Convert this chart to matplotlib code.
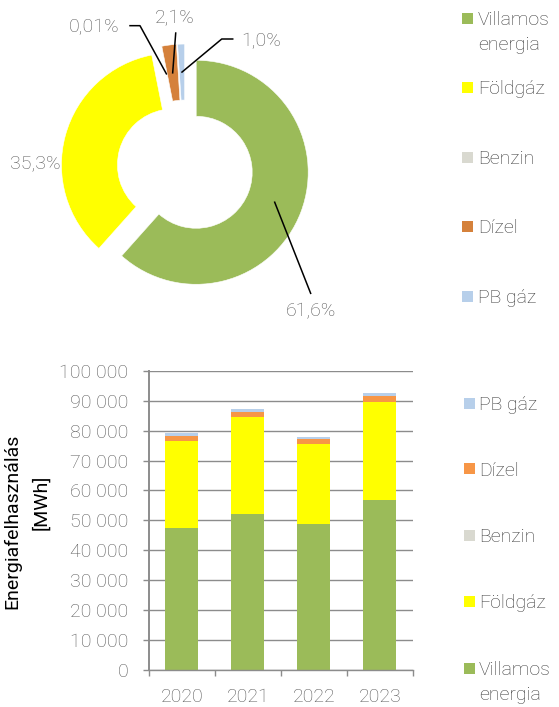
import matplotlib
matplotlib.use('Agg')
import matplotlib.pyplot as plt
import numpy as np
from matplotlib.patches import Rectangle
from matplotlib.ticker import FuncFormatter, FixedLocator

plt.rcParams['font.family'] = ['Roboto', 'DejaVu Sans']
plt.rcParams['font.weight'] = 'light'

# --- data ---
series = ['Villamos\nenergia', 'Földgáz', 'Benzin', 'Dízel', 'PB gáz']
pie_share = [61.6, 35.3, 0.01, 2.1, 1.0]
pie_labels = ['61,6%', '35,3%', '0,01%', '2,1%', '1,0%']
pie_colors = ['#9BBB59', '#FFFF00', '#D9D9D0', '#D5813B', '#B7CFEA']

years = ['2020', '2021', '2022', '2023']
villamos = [47450, 52100, 48900, 56800]
foldgaz = [29050, 32430, 26700, 32850]
benzin = [10, 10, 10, 10]
dizel = [1680, 1670, 1580, 2000]
pb_gaz = [1110, 1000, 770, 900]
bar_colors = ['#9BBB59', '#FFFF00', '#D9D9D0', '#F79646', '#B7CFEA']

W, H = 559, 707
fig = plt.figure(figsize=(W / 100, H / 100), dpi=100)
grey = '#595959'


def fpos(x, y):
    return x / W, 1 - y / H


def legend_entry(name, col, mx, tx, y):
    x0, y0 = fpos(mx, y + 5.5)
    fig.add_artist(Rectangle((x0, y0), 11 / W, 11 / H, transform=fig.transFigure,
                             facecolor=col, edgecolor='none'))
    for i, line in enumerate(name.split('\n')):
        px, py = fpos(tx, y + 25 * i)
        fig.text(px, py, line, ha='left', va='center_baseline', fontsize=14,
                 color='#3A3A3A')


# --- donut ---
ax1 = fig.add_axes([0.0705, 0.5564, 0.5209, 0.4119])
wedges, _ = ax1.pie(pie_share, colors=pie_colors, startangle=90, counterclock=False,
                    explode=[0.107] * 5, radius=1,
                    wedgeprops=dict(width=0.5, edgecolor='white', linewidth=0.4))
ax1.set_xlim(-1.3, 1.3)
ax1.set_ylim(-1.3, 1.3)
ax1.set_aspect('equal')

label_pos = [(1.121, -1.283), (-1.335, 0.042), (-0.8125, 1.254), (-0.089, 1.339), (0.676, 1.136)]
leader = [[(1.122, -1.119)], None, [(-0.402, 1.271), (-0.491, 1.271)],
          [(-0.083, 1.205)], [(0.328, 1.152), (0.426, 1.152)]]
for w, lab, pos, pts in zip(wedges, pie_labels, label_pos, leader):
    mid = np.deg2rad((w.theta1 + w.theta2) / 2)
    cx, cy = w.center
    ax1.text(pos[0], pos[1], lab, ha='center', va='center', fontsize=14, color=grey)
    if pts:
        ax_x = [cx + 0.75 * np.cos(mid)] + [p[0] for p in pts]
        ax_y = [cy + 0.75 * np.sin(mid)] + [p[1] for p in pts]
        ax1.plot(ax_x, ax_y, color='black', lw=1.1, clip_on=False)

top_leg_y = [18, 87, 157, 226, 296]
for name, col, y in zip(series, pie_colors, top_leg_y):
    legend_entry(name, col, 462, 478, y)

# --- stacked bars ---
ax2 = fig.add_axes([0.2665, 0.0523, 0.4723, 0.4233])
x = np.arange(len(years))
bottom = np.zeros(len(years))
for vals, col in zip([villamos, foldgaz, benzin, dizel, pb_gaz], bar_colors):
    ax2.bar(x, vals, width=0.5, bottom=bottom, color=col, zorder=2)
    bottom += np.array(vals)

ax2.set_xlim(-0.5, len(years) - 0.5)
ax2.set_ylim(0, 100000)
ax2.set_yticks(np.arange(0, 100001, 10000))
ax2.yaxis.set_major_formatter(FuncFormatter(lambda v, p: f'{int(v):,}'.replace(',', ' ')))
ax2.grid(axis='y', color='#8C8C8C', lw=1.0, zorder=0)
ax2.set_axisbelow(True)
for s in ['top', 'right']:
    ax2.spines[s].set_visible(False)
ax2.spines['left'].set_color('#8C8C8C')
ax2.spines['left'].set_linewidth(1.4)
ax2.spines['bottom'].set_color('#8C8C8C')
ax2.spines['bottom'].set_linewidth(1.0)
ax2.tick_params(axis='y', length=4.3, width=1, color='#8C8C8C', pad=10.5,
                labelsize=14, labelcolor=grey)
ax2.set_xticks(x)
ax2.set_xticklabels(years)
ax2.xaxis.set_minor_locator(FixedLocator(np.arange(-0.5, len(years), 1.0)))
ax2.tick_params(axis='x', which='major', length=0, pad=13, labelsize=14, labelcolor=grey)
ax2.tick_params(axis='x', which='minor', length=4.3, width=1, color='#8C8C8C')

tx, ty = fpos(12, 521)
fig.text(tx, ty, 'Energiafelhasználás', rotation=90, ha='center', va='center',
         fontsize=14, color='black', fontweight='normal')
tx, ty = fpos(41.5, 502)
fig.text(tx, ty, '[MWh]', rotation=90, ha='center', va='center', fontsize=14,
         color='black', fontweight='normal')

bot_leg_y = [403, 468.5, 535.5, 601, 668]
for name, col, y in zip(series[::-1], bar_colors[::-1], bot_leg_y):
    legend_entry(name, col, 464, 479, y)

fig.savefig('out.png', dpi=100)
